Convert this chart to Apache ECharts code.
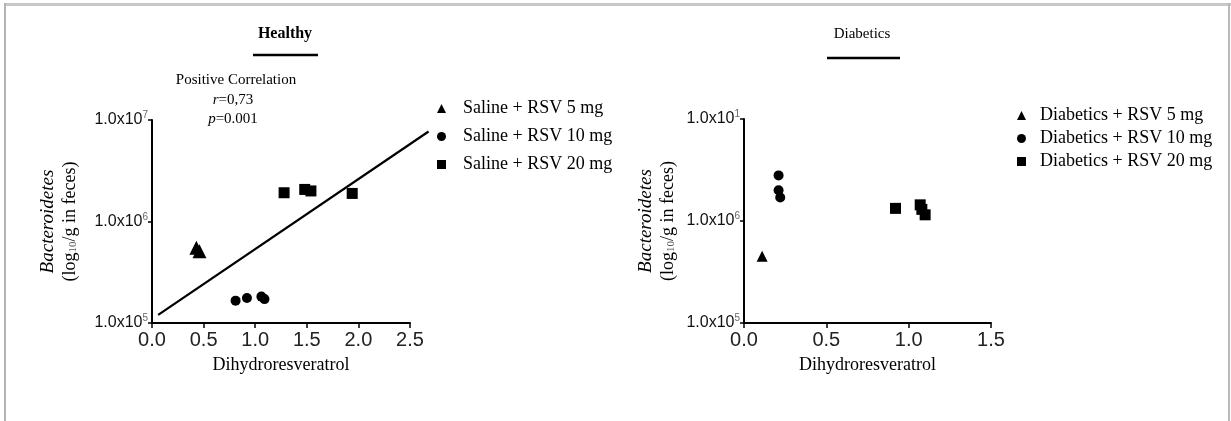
<!DOCTYPE html>
<html>
<head>
<meta charset="utf-8">
<script src="https://cdn.jsdelivr.net/npm/echarts@6/dist/echarts.min.js"></script>
<style>
html,body{margin:0;padding:0;background:#fff;}
#c{width:1231px;height:421px;}
</style>
</head>
<body>
<div id="c"></div>
<script>
// ---- data ----
const healthyNames = ['Saline + RSV 5 mg', 'Saline + RSV 10 mg', 'Saline + RSV 20 mg'];
const diabeticNames = ['Diabetics + RSV 5 mg', 'Diabetics + RSV 10 mg', 'Diabetics + RSV 20 mg'];

const healthy5X = [0.43, 0.46];
const healthy5Y = [5.5e5, 5.1e5];
const healthy10X = [0.81, 0.92, 1.06, 1.09];
const healthy10Y = [1.66e5, 1.76e5, 1.82e5, 1.72e5];
const healthy20X = [1.28, 1.48, 1.54, 1.94];
const healthy20Y = [1.92e6, 2.07e6, 2.0e6, 1.89e6];
const fitX = [0.06, 2.68];
const fitY = [1.2e5, 7.7e6];

const diab5X = [0.11];
const diab5Y = [4.5e5];
const diab10X = [0.21, 0.21, 0.22];
const diab10Y = [2.8e6, 2.0e6, 1.7e6];
const diab20X = [0.92, 1.07, 1.08, 1.10];
const diab20Y = [1.33e6, 1.44e6, 1.30e6, 1.15e6];

const xTicksHealthy = [0, 0.5, 1.0, 1.5, 2.0, 2.5];
const xTicksDiab = [0, 0.5, 1.0, 1.5];
const fitXMax = 2.7; // the fitted line runs a little past the last tick
const yExpHealthy = {5: '5', 6: '6', 7: '7'};
const yExpDiab = {5: '5', 6: '6', 7: '1'};

const annotation = ['Positive Correlation', 'r', '=0,73', 'p', '=0.001'];

// ---- helpers ----
const pair = (xs, ys) => xs.map((x, i) => [x, ys[i]]);
const serif = '"Liberation Serif", "DejaVu Serif", serif';
const sans = '"Liberation Sans", Arial, sans-serif';

function yAxisCfg(gridIndex, exps) {
  return {
    type: 'log', logBase: 10, gridIndex: gridIndex, min: 1e5, max: 1e7,
    name: '{i|Bacteroidetes}\n{n|(log}{sub|10}{n|/g in feces)}',
    nameLocation: 'middle', nameRotate: 90, nameGap: gridIndex === 0 ? 70 : 64,
    nameTextStyle: {
      color: '#000', fontFamily: serif,
      rich: {
        i: {fontStyle: 'italic', fontSize: 19, fontFamily: serif, color: '#000', lineHeight: 23},
        n: {fontSize: 18, fontFamily: serif, color: '#000', lineHeight: 23},
        sub: {fontSize: 11, fontFamily: serif, color: '#555', padding: [6, 0, 0, 0], lineHeight: 23}
      }
    },
    axisLine: {show: true, lineStyle: {color: '#000', width: 2}},
    axisTick: {show: true, length: 4, lineStyle: {color: '#000', width: 1.5}},
    splitLine: {show: false},
    minorTick: {show: false},
    axisLabel: {
      margin: 4, color: '#000',
      formatter: function (v) {
        const e = Math.round(Math.log10(v));
        return '{b|1.0x10}{s|' + exps[e] + '}';
      },
      rich: {
        b: {fontSize: 16, fontFamily: sans, color: '#111'},
        s: {fontSize: 10, fontFamily: sans, color: '#666', padding: [0, 0, 9, 0]}
      }
    }
  };
}

function xAxisCfg(gridIndex, ticks) {
  return {
    type: 'value', gridIndex: gridIndex,
    min: ticks[0], max: ticks[ticks.length - 1], interval: 0.5,
    name: 'Dihydroresveratrol', nameLocation: 'middle', nameGap: 33,
    nameTextStyle: {color: '#000', fontSize: 18, fontFamily: serif},
    axisLine: {show: true, onZero: false, lineStyle: {color: '#000', width: 2}},
    axisTick: {show: true, length: 5, lineStyle: {color: '#000', width: 1.5}},
    splitLine: {show: false},
    axisLabel: {
      margin: 7, color: '#222', fontSize: 20, fontFamily: sans,
      formatter: v => v.toFixed(1)
    }
  };
}

function scatter(name, xi, yi, symbol, size, data) {
  return {
    type: 'scatter', name: name, xAxisIndex: xi, yAxisIndex: yi,
    symbol: symbol, symbolSize: size, data: data,
    itemStyle: {color: '#000', opacity: 1}, clip: false, silent: true
  };
}

const plotW0 = 258;
const option = {
  backgroundColor: '#fff',
  animation: false,
  grid: [
    {left: 152, top: 120, width: plotW0, height: 203},
    {left: 744, top: 119, width: 247, height: 204},
    // same scale as grid 0, extended so the fit line can pass the last tick
    {left: 152, top: 120, width: plotW0 * fitXMax / xTicksHealthy[xTicksHealthy.length - 1], height: 203}
  ],
  xAxis: [
    xAxisCfg(0, xTicksHealthy),
    xAxisCfg(1, xTicksDiab),
    {type: 'value', gridIndex: 2, min: 0, max: fitXMax, show: false}
  ],
  yAxis: [
    yAxisCfg(0, yExpHealthy),
    yAxisCfg(1, yExpDiab),
    {type: 'log', logBase: 10, gridIndex: 2, min: 1e5, max: 1e7, show: false}
  ],
  legend: [
    {
      data: healthyNames.map((n, i) => ({name: n, icon: ['triangle', 'circle', 'rect'][i]})),
      orient: 'vertical', left: 432, top: 92, itemWidth: 9, itemHeight: 9, itemGap: 5,
      selectedMode: false,
      textStyle: {color: '#000', fontSize: 18, fontFamily: serif, lineHeight: 23, padding: [0, 0, 0, 12]}
    },
    {
      data: diabeticNames.map((n, i) => ({name: n, icon: ['triangle', 'circle', 'rect'][i]})),
      orient: 'vertical', left: 1012, top: 99, itemWidth: 9, itemHeight: 9, itemGap: 0,
      selectedMode: false,
      textStyle: {color: '#000', fontSize: 18, fontFamily: serif, lineHeight: 23, padding: [0, 0, 0, 9]}
    }
  ],
  series: [
    scatter(healthyNames[0], 0, 0, 'triangle', 14, pair(healthy5X, healthy5Y)),
    scatter(healthyNames[1], 0, 0, 'circle', 10, pair(healthy10X, healthy10Y)),
    scatter(healthyNames[2], 0, 0, 'rect', 11, pair(healthy20X, healthy20Y)),
    {
      type: 'line', name: 'fit', xAxisIndex: 2, yAxisIndex: 2,
      data: pair(fitX, fitY), symbol: 'none', clip: false, silent: true,
      lineStyle: {color: '#000', width: 2.2}
    },
    scatter(diabeticNames[0], 1, 1, 'triangle', 11, pair(diab5X, diab5Y)),
    scatter(diabeticNames[1], 1, 1, 'circle', 10, pair(diab10X, diab10Y)),
    scatter(diabeticNames[2], 1, 1, 'rect', 11, pair(diab20X, diab20Y))
  ],
  graphic: [
    // frame
    {type: 'rect', shape: {x: 4, y: 3, width: 1227, height: 3}, style: {fill: '#c8c8c8'}, silent: true},
    {type: 'rect', shape: {x: 4, y: 3, width: 2, height: 418}, style: {fill: '#b4b4b4'}, silent: true},
    {type: 'rect', shape: {x: 1228, y: 3, width: 2, height: 418}, style: {fill: '#b8b8b8'}, silent: true},
    // titles
    {type: 'text', x: 285, y: 34, style: {text: 'Healthy', font: 'bold 16px ' + serif, fill: '#000', align: 'center', verticalAlign: 'middle'}},
    {type: 'line', shape: {x1: 253, y1: 55, x2: 318, y2: 55}, style: {stroke: '#000', lineWidth: 2.5}},
    {type: 'text', x: 862, y: 34, style: {text: 'Diabetics', font: '15px ' + serif, fill: '#000', align: 'center', verticalAlign: 'middle'}},
    {type: 'line', shape: {x1: 827, y1: 58, x2: 900, y2: 58}, style: {stroke: '#000', lineWidth: 2.5}},
    // annotation
    {type: 'text', x: 236, y: 80, style: {text: annotation[0], font: '15px ' + serif, fill: '#000', align: 'center', verticalAlign: 'middle'}},
    {type: 'text', x: 233, y: 100, style: {
      text: '{i|' + annotation[1] + '}{n|' + annotation[2] + '}', align: 'center', verticalAlign: 'middle',
      rich: {i: {fontStyle: 'italic', fontSize: 15, fontFamily: serif, fill: '#000'}, n: {fontSize: 15, fontFamily: serif, fill: '#000'}}
    }},
    {type: 'text', x: 233, y: 119, style: {
      text: '{i|' + annotation[3] + '}{n|' + annotation[4] + '}', align: 'center', verticalAlign: 'middle',
      rich: {i: {fontStyle: 'italic', fontSize: 15, fontFamily: serif, fill: '#000'}, n: {fontSize: 15, fontFamily: serif, fill: '#000'}}
    }}
  ]
};

const chart = echarts.init(document.getElementById('c'), null, {renderer: 'canvas'});
chart.setOption(option);
</script>
</body>
</html>
